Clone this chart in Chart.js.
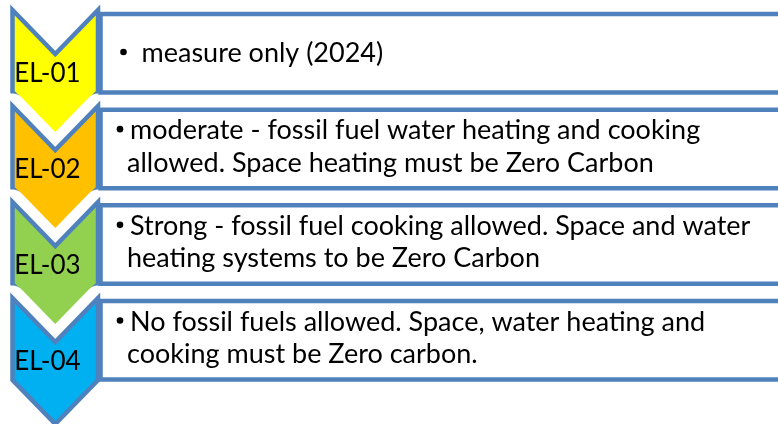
<!DOCTYPE html>
<html>
<head>
<meta charset="utf-8">
<script src="https://cdn.jsdelivr.net/npm/chart.js@4"></script>
<style>
  html, body { margin: 0; padding: 0; background: #ffffff; }
  #wrap { width: 778px; height: 424px; }
</style>
</head>
<body>
<div id="wrap"><canvas id="c" width="778" height="424"></canvas></div>
<script>
// ---- data ----
const levels = ['EL-01', 'EL-02', 'EL-03', 'EL-04'];
const descLine1 = [
  'measure only (2024)',
  'moderate - fossil fuel water heating and cooking',
  'Strong - fossil fuel cooking allowed. Space and water',
  'No fossil fuels allowed. Space, water heating and'
];
const descLine2 = [
  '',
  'allowed. Space heating must be Zero Carbon',
  'heating systems to be Zero Carbon',
  'cooking must be Zero carbon.'
];
const levelColors = ['#FFFF00', '#FFC000', '#92D050', '#00B0F0'];

// ---- layout constants (axis units = pixels of a 778x424 frame) ----
const BLUE = '#4F81BD';
const CHEV = { left: 12.5, right: 98, top0: 10, pitch: 96, notch: 44, side: 82, tip: 44 };
const BOX = { left: 100.5, right: 800, top0: 14, pitch: 95.67, height: 78.5 };
const LABEL_FONT = '26px Lato, "Open Sans", sans-serif';
const TEXT_FONT = '27px Lato, "Open Sans", sans-serif';

function chevronPoints(i) {
  const y0 = CHEV.top0 + i * CHEV.pitch;
  const xl = CHEV.left, xr = CHEV.right, xc = (xl + xr) / 2;
  return [
    { x: (xl + xc) / 2, y: y0 + CHEV.notch / 2 },
    { x: xc, y: y0 + CHEV.notch },
    { x: xr, y: y0 },
    { x: xr, y: y0 + CHEV.side },
    { x: xc, y: y0 + CHEV.side + CHEV.tip },
    { x: xl, y: y0 + CHEV.side },
    { x: xl, y: y0 },
    { x: (xl + xc) / 2, y: y0 + CHEV.notch / 2 }
  ];
}
function boxPoints(i) {
  const t = BOX.top0 + i * BOX.pitch, b = t + BOX.height, m = (t + b) / 2;
  return [
    { x: BOX.left, y: m }, { x: BOX.left, y: t }, { x: BOX.right, y: t },
    { x: BOX.right, y: b }, { x: BOX.left, y: b }, { x: BOX.left, y: m }
  ];
}

const base = { showLine: true, pointRadius: 0, pointHoverRadius: 0, tension: 0, borderCapStyle: 'butt' };
const drawList = [];
levels.forEach((lv, i) => {
  drawList.push(Object.assign({}, base, {
    label: lv + ' gap', data: chevronPoints(i), fill: false,
    borderColor: '#FFFFFF', borderWidth: 25, borderJoinStyle: 'round', backgroundColor: 'rgba(0,0,0,0)'
  }));
  drawList.push(Object.assign({}, base, {
    label: lv, data: chevronPoints(i), fill: 'shape',
    borderColor: BLUE, borderWidth: 4.5, borderJoinStyle: 'miter', backgroundColor: levelColors[i]
  }));
});
levels.forEach((lv, i) => {
  drawList.push(Object.assign({}, base, {
    label: lv + ' text', data: boxPoints(i), fill: 'shape',
    borderColor: BLUE, borderWidth: 4.5, borderJoinStyle: 'miter', backgroundColor: '#FFFFFF'
  }));
});
const N = drawList.length;
drawList.forEach((d, k) => { d.order = N - k; });

const textPlugin = {
  id: 'diagramText',
  afterDatasetsDraw(chart) {
    const ctx = chart.ctx, xs = chart.scales.x, ys = chart.scales.y;
    const bullet = (x, y) => {
      ctx.beginPath();
      ctx.arc(xs.getPixelForValue(x), ys.getPixelForValue(y), 3.3, 0, Math.PI * 2);
      ctx.fill();
    };
    ctx.save();
    ctx.fillStyle = '#000000';
    ctx.textBaseline = 'alphabetic';
    levels.forEach((lv, i) => {
      const y0 = CHEV.top0 + i * CHEV.pitch;
      ctx.font = LABEL_FONT;
      ctx.textAlign = 'center';
      ctx.fillText(lv, xs.getPixelForValue(47.5), ys.getPixelForValue(y0 + 72));
      const t = BOX.top0 + i * BOX.pitch;
      ctx.font = TEXT_FONT;
      ctx.textAlign = 'left';
      if (descLine2[i] === '') {
        bullet(123.5, t + 38);
        ctx.fillText(descLine1[i], xs.getPixelForValue(141.5), ys.getPixelForValue(t + 48));
      } else {
        bullet(120, t + 19.5);
        ctx.fillText(descLine1[i], xs.getPixelForValue(130), ys.getPixelForValue(t + 29.5));
        ctx.fillText(descLine2[i], xs.getPixelForValue(127), ys.getPixelForValue(t + 62));
      }
    });
    ctx.restore();
  }
};

new Chart(document.getElementById('c'), {
  type: 'scatter',
  data: { datasets: drawList },
  options: {
    responsive: false,
    animation: false,
    events: [],
    devicePixelRatio: 1,
    layout: { padding: 0 },
    plugins: { legend: { display: false }, tooltip: { enabled: false } },
    scales: {
      x: { type: 'linear', min: 0, max: 778, display: false },
      y: { type: 'linear', min: 0, max: 424, reverse: true, display: false }
    }
  },
  plugins: [textPlugin]
});
</script>
</body>
</html>
